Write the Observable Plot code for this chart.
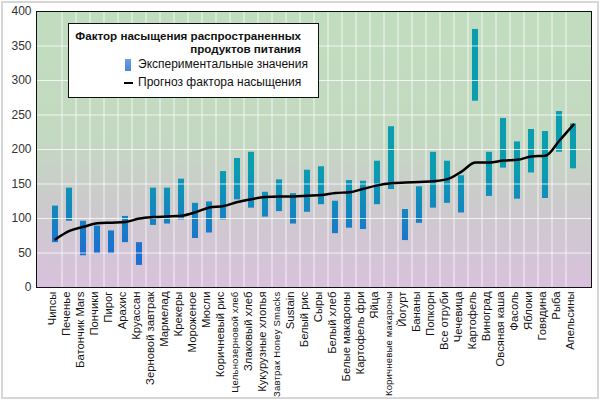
<!DOCTYPE html>
<html>
<head>
<meta charset="utf-8">
<script src="https://cdn.jsdelivr.net/npm/d3@7"></script>
<script src="https://cdn.jsdelivr.net/npm/@observablehq/plot@0.6"></script>
<style>
  html, body { margin: 0; padding: 0; background: #fff; }
  #wrap { position: relative; width: 600px; height: 400px; font-family: "Liberation Sans", Arial, sans-serif; }
  #wrap svg { display: block; }
  #border { position: absolute; left: 1px; top: 1px; right: 1px; bottom: 1px; border: 2px solid #d6d6d6; pointer-events: none; }
  #legend { position: absolute; left: 68px; top: 23px; width: 249px; height: 73px; background: #fff; border: 1px solid #111; font-size: 12px; color: #111; }
  #legend .title { position: absolute; right: 17px; top: 5px; text-align: right; font-weight: bold; font-size: 11.6px; line-height: 13px; white-space: nowrap; }
  #legend .item { position: absolute; left: 55px; height: 18px; line-height: 18px; white-space: nowrap; }
  #legend .sw { display: inline-block; vertical-align: middle; margin-right: 7px; }
</style>
</head>
<body>
<div id="wrap">
  <div id="chart"></div>
  <div id="legend">
    <div class="title">Фактор насыщения распространенных<br>продуктов питания</div>
    <div class="item" style="top:31px"><span class="sw" style="width:6px;height:12px;background:linear-gradient(#6c9de2,#4a86d8);margin-left:1px;margin-right:7px"></span>Экспериментальные значения</div>
    <div class="item" style="top:49px"><span class="sw" style="width:9px;height:2px;background:#000;margin-right:5px"></span>Прогноз фактора насыщения</div>
  </div>
  <div id="border"></div>
</div>
<script>
const categories = ["Чипсы","Печенье","Батончик Mars","Пончики","Пирог","Арахис","Круассан","Зерновой завтрак","Мармелад","Крекеры","Мороженое","Мюсли","Коричневый рис","Цельнозерновой хлеб","Злаковый хлеб","Кукурузные хлопья","Завтрак Honey Smacks","Sustain","Белый рис","Сыры","Белый хлеб","Белые макароны","Картофель фри","Яйца","Коричневые макароны","Йогурт","Бананы","Попкорн","Все отруби","Чечевица","Картофель","Виноград","Овсяная каша","Фасоль","Яблоки","Говядина","Рыба","Апельсины"];
const lowValues  = [65,96,46,49,49,65,32,90,92,98,71,79,98,127,115,102,110,92,109,120,78,86,84,120,142,68,93,115,122,108,270,132,173,128,166,129,196,172];
const highValues = [118,144,96,89,82,103,65,144,144,157,122,124,168,187,196,138,156,136,170,175,125,155,154,183,233,113,146,196,183,162,374,196,245,211,229,226,255,237];
const forecast   = [70,82,88,93,94,95,100,102,103,104,109,116,118,124,128,131,132,132,133,134,137,138,143,148,151,152,153,154,157,168,181,181,184,185,190,191,213,236];
const yTicks = [0,50,100,150,200,250,300,350,400];

const data = categories.map((name, i) => ({name, low: lowValues[i], high: highValues[i], forecast: forecast[i]}));
const shortLabels = categories.filter(c => c.length <= 18);
const longLabels = categories.filter(c => c.length > 18);

function verticalGrid(index, scales, values, dims) {
  const x = scales.x;
  const g = d3.create("svg:g");
  const xs = categories.map(c => x(c)).slice(1);
  g.selectAll("line").data(xs).join("line")
    .attr("x1", d => d).attr("x2", d => d)
    .attr("y1", dims.marginTop).attr("y2", dims.height - dims.marginBottom)
    .attr("stroke", "#fff").attr("stroke-opacity", 0.75).attr("stroke-width", 1);
  return g.node();
}

const chart = Plot.plot({
  width: 600,
  height: 400,
  marginLeft: 36,
  marginRight: 9,
  marginTop: 11,
  marginBottom: 113,
  style: {fontFamily: "'Liberation Sans', Arial, sans-serif", fontSize: "12px", color: "#333", background: "transparent"},
  x: {domain: categories, padding: 0, axis: null},
  y: {domain: [0, 400], ticks: yTicks, tickSize: 0, tickPadding: 5, label: null, tickFormat: d => String(d)},
  marks: [
    Plot.frame({fill: "url(#bgGrad)", stroke: null}),
    Plot.barY(data, {x: "name", y1: "low", y2: "high", fill: "url(#barGrad)", insetLeft: 4, insetRight: 4}),
    Plot.ruleY(yTicks.filter(v => v > 0 && v < 400), {stroke: "#fff", strokeOpacity: 0.75, strokeWidth: 1}),
    verticalGrid,
    Plot.line(data, {x: "name", y: "forecast", stroke: "#000", strokeWidth: 2.5, curve: "monotone-x"}),
    Plot.frame({stroke: "#111", strokeWidth: 1}),
    Plot.text(shortLabels, {x: d => d, text: d => d, frameAnchor: "bottom", rotate: -90, textAnchor: "end", dy: 4, fontSize: 11.3, fill: "#111"}),
    Plot.text(longLabels, {x: d => d, text: d => d, frameAnchor: "bottom", rotate: -90, textAnchor: "end", dy: 4, fontSize: 9.5, fill: "#111"})
  ]
});

d3.select(chart).selectAll("g[font-size='9.5'] text").attr("letter-spacing", "0.2px");

const ys = chart.scale("y");
const defs = d3.select(chart).insert("defs", ":first-child");
const bg = defs.append("linearGradient").attr("id", "bgGrad").attr("x1", 0).attr("y1", 0).attr("x2", 0).attr("y2", 1);
bg.append("stop").attr("offset", "0%").attr("stop-color", "#c1ddbf");
bg.append("stop").attr("offset", "45%").attr("stop-color", "#c3d9c1");
bg.append("stop").attr("offset", "68%").attr("stop-color", "#cbcbcb");
bg.append("stop").attr("offset", "100%").attr("stop-color", "#d9c1dd");
const bar = defs.append("linearGradient").attr("id", "barGrad").attr("gradientUnits", "userSpaceOnUse")
  .attr("x1", 0).attr("x2", 0).attr("y1", ys.apply(50)).attr("y2", ys.apply(170));
bar.append("stop").attr("offset", "0%").attr("stop-color", "#1d6fd0");
bar.append("stop").attr("offset", "100%").attr("stop-color", "#0a9db0");

document.getElementById("chart").appendChild(chart);
</script>
</body>
</html>
